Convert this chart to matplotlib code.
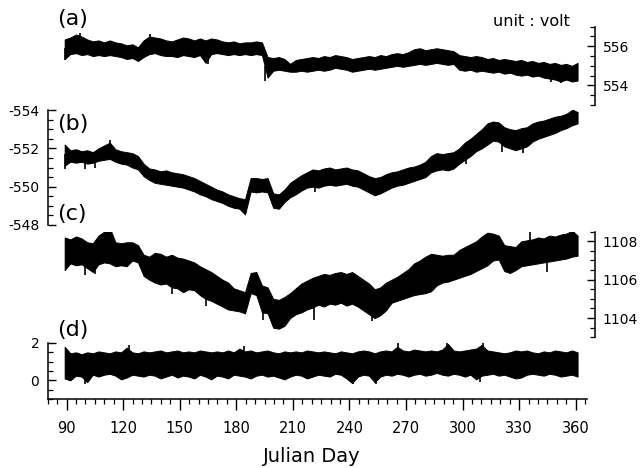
import matplotlib
matplotlib.use("Agg")
import matplotlib.pyplot as plt
import numpy as np
from matplotlib.ticker import MultipleLocator

plt.rcParams['font.family'] = ['DejaVu Sans']
plt.rcParams['axes.unicode_minus'] = False

# sampling days (every ~3 days, day 89 to 361)
day = np.linspace(89, 361, 92)

# envelopes of the noisy records (volt)
a_hi = [556.35, 556.45, 556.6, 556.5, 556.35, 556.25, 556.3, 556.2, 556.3, 556.2,
        556.15, 556.05, 556.1, 555.95, 556.3, 556.5, 556.45, 556.4, 556.3, 556.25,
        556.35, 556.45, 556.4, 556.3, 556.4, 556.3, 556.4, 556.35, 556.25, 556.2,
        556.25, 556.15, 556.2, 556.2, 556.25, 556.2, 555.45, 555.4, 555.45, 555.35,
        555.1, 555.3, 555.35, 555.4, 555.45, 555.4, 555.5, 555.45, 555.55, 555.5,
        555.45, 555.35, 555.4, 555.45, 555.5, 555.45, 555.55, 555.5, 555.6, 555.65,
        555.6, 555.7, 555.85, 555.9, 555.8, 555.85, 555.9, 555.85, 555.8, 555.75,
        555.55, 555.5, 555.45, 555.5, 555.45, 555.35, 555.4, 555.3, 555.35, 555.3,
        555.25, 555.3, 555.2, 555.25, 555.15, 555.2, 555.1, 555.15, 555.05, 555.1,
        555.0, 555.15]
a_lo = [555.35, 555.6, 555.65, 555.55, 555.6, 555.5, 555.55, 555.5, 555.55, 555.5,
        555.45, 555.35, 555.4, 555.25, 555.45, 555.6, 555.65, 555.55, 555.5, 555.5,
        555.45, 555.55, 555.5, 555.45, 555.55, 555.15, 555.6, 555.65, 555.6, 555.55,
        555.6, 555.55, 555.6, 555.55, 555.6, 555.55, 554.4, 554.75, 554.8, 554.75,
        554.7, 554.7, 554.75, 554.7, 554.75, 554.8, 554.75, 554.8, 554.9, 554.85,
        554.8, 554.7, 554.75, 554.8, 554.85, 554.8, 554.85, 554.9, 554.95, 555.0,
        554.95, 555.0, 555.05, 555.1, 555.05, 555.1, 555.15, 555.1, 555.05, 555.1,
        554.8, 554.75, 554.8, 554.7, 554.75, 554.7, 554.65, 554.7, 554.6, 554.65,
        554.55, 554.5, 554.55, 554.45, 554.5, 554.4, 554.35, 554.3, 554.2, 554.3,
        554.2, 554.25]

b_hi = [-552.2, -551.9, -551.95, -551.85, -551.9, -551.8, -552.0, -552.15, -552.3, -551.95,
        -551.85, -551.8, -551.75, -551.6, -551.2, -550.95, -550.9, -550.8, -550.85, -550.75,
        -550.7, -550.65, -550.55, -550.45, -550.3, -550.15, -550.0, -549.85, -549.75, -549.6,
        -549.5, -549.4, -549.35, -550.45, -550.45, -550.4, -550.45, -549.65, -549.6, -549.85,
        -550.2, -550.4, -550.6, -550.75, -550.9, -550.85, -550.95, -551.0, -550.9, -550.95,
        -551.0, -550.9, -550.85, -550.7, -550.55, -550.45, -550.5, -550.65, -550.75, -550.8,
        -550.9, -551.0, -551.05, -551.15, -551.3, -551.6, -551.75, -551.7, -551.75, -551.8,
        -552.0, -552.3, -552.5, -552.75, -553.0, -553.3, -553.4, -553.35, -553.1, -553.0,
        -552.95, -553.05, -553.1, -553.3, -553.4, -553.45, -553.55, -553.65, -553.7, -553.8,
        -554.0, -553.9]
b_lo = [-551.1, -551.3, -551.25, -551.3, -551.2, -551.25, -551.35, -551.4, -551.45, -551.3,
        -551.2, -551.15, -551.0, -550.9, -550.55, -550.35, -550.2, -550.15, -550.1, -550.05,
        -550.0, -549.95, -549.85, -549.75, -549.6, -549.5, -549.35, -549.25, -549.15, -549.0,
        -548.9, -548.85, -548.55, -549.75, -549.7, -549.75, -549.7, -548.9, -548.85, -549.2,
        -549.45, -549.6, -549.8, -549.95, -550.0, -549.95, -550.05, -550.1, -550.05, -550.1,
        -550.15, -550.05, -550.0, -549.85, -549.7, -549.55, -549.65, -549.8, -549.95, -550.05,
        -550.1, -550.2, -550.3, -550.4, -550.5, -550.75, -550.85, -550.9, -550.85, -550.95,
        -551.2, -551.4, -551.6, -551.85, -552.0, -552.2, -552.4, -552.35, -552.1, -552.0,
        -551.9, -552.0, -552.1, -552.35, -552.5, -552.6, -552.7, -552.8, -552.95, -553.05,
        -553.2, -553.3]

c_hi = [1108.2, 1108.1, 1108.25, 1108.15, 1107.95, 1107.9, 1108.3, 1108.5, 1108.7, 1107.95,
        1107.9, 1107.95, 1107.95, 1107.8, 1107.3, 1107.2, 1107.4, 1107.35, 1107.2, 1107.3,
        1107.15, 1107.1, 1107.0, 1106.9, 1106.7, 1106.55, 1106.4, 1106.2, 1106.0, 1105.85,
        1105.55, 1105.45, 1105.35, 1106.35, 1106.4, 1105.7, 1105.6, 1105.0, 1104.95, 1105.1,
        1105.3, 1105.55, 1105.8, 1105.95, 1106.1, 1106.2, 1106.3, 1106.25, 1106.35, 1106.4,
        1106.3, 1106.4, 1106.2, 1106.0, 1105.8, 1105.5, 1105.6, 1105.85, 1106.0, 1106.15,
        1106.35, 1106.55, 1106.85, 1107.0, 1107.2, 1107.35, 1107.3, 1107.25, 1107.3, 1107.3,
        1107.55, 1107.7, 1107.85, 1108.0, 1108.25, 1108.45, 1108.4, 1108.3, 1107.8, 1107.75,
        1107.7, 1108.0, 1108.05, 1108.1, 1108.2, 1108.15, 1108.3, 1108.25, 1108.35, 1108.4,
        1108.55, 1108.3]
c_lo = [1106.5, 1106.85, 1106.75, 1106.8, 1106.6, 1106.4, 1106.8, 1106.9, 1106.85, 1106.7,
        1106.75, 1106.7, 1107.0, 1106.9, 1106.2, 1106.0, 1105.85, 1105.75, 1105.8, 1105.6,
        1105.55, 1105.35, 1105.5, 1105.45, 1105.2, 1105.0, 1104.9, 1104.75, 1104.6, 1104.45,
        1104.4, 1104.35, 1104.25, 1105.3, 1105.2, 1104.3, 1104.25, 1103.5, 1103.45, 1103.6,
        1104.0, 1104.2, 1104.3, 1104.45, 1104.55, 1104.7, 1104.6, 1104.75, 1104.7, 1104.8,
        1104.65, 1104.75, 1104.6, 1104.4, 1104.2, 1104.0, 1104.15, 1104.4, 1104.8, 1104.9,
        1105.0, 1105.1, 1105.2, 1105.25, 1105.3, 1105.4, 1105.7, 1105.85, 1105.9, 1106.0,
        1106.1, 1106.2, 1106.3, 1106.45, 1106.6, 1106.75, 1107.0, 1107.05, 1106.45, 1106.35,
        1106.5, 1106.7, 1106.75, 1106.8, 1106.85, 1106.9, 1106.95, 1107.0, 1107.05, 1107.1,
        1107.2, 1107.25]

d_hi = [1.8, 1.45, 1.5, 1.4, 1.5, 1.45, 1.55, 1.5, 1.45, 1.55,
        1.5, 1.75, 1.5, 1.45, 1.55, 1.5, 1.55, 1.6, 1.5, 1.55,
        1.6, 1.5, 1.55, 1.5, 1.6, 1.55, 1.5, 1.55, 1.5, 1.6,
        1.5, 1.7, 1.55, 1.6, 1.5, 1.55, 1.6, 1.5, 1.45, 1.55,
        1.5, 1.55, 1.5, 1.6, 1.55, 1.5, 1.55, 1.5, 1.45, 1.55,
        1.5, 1.45, 1.55, 1.6, 1.55, 1.45, 1.55, 1.6, 1.55, 1.8,
        1.6, 1.55, 1.65, 1.6, 1.55, 1.6, 1.55, 1.65, 1.95, 1.6,
        1.55, 1.6, 1.65, 1.7, 1.9, 1.6, 1.55, 1.5, 1.45, 1.5,
        1.6, 1.55, 1.6, 1.5, 1.45, 1.55, 1.5, 1.6, 1.55, 1.5,
        1.6, 1.5]
d_lo = [0.1, 0.0, 0.25, 0.2, -0.1, 0.3, 0.2, 0.3, 0.35, 0.25,
        0.05, 0.15, 0.3, 0.25, 0.2, 0.3, 0.25, 0.1, 0.2, 0.3,
        0.15, 0.25, 0.2, 0.1, 0.3, 0.2, 0.05, 0.25, 0.2, 0.1,
        0.3, 0.25, 0.2, 0.1, 0.25, 0.3, 0.2, 0.25, 0.15, 0.05,
        0.2, 0.3, 0.25, 0.1, 0.2, 0.3, 0.25, 0.2, 0.35, 0.3,
        0.1, -0.15, 0.2, 0.3, 0.25, -0.1, 0.2, 0.3, 0.25, 0.35,
        0.3, 0.2, 0.3, 0.35, 0.25, 0.3, 0.4, 0.3, 0.25, 0.35,
        0.3, 0.2, 0.3, 0.05, 0.25, 0.3, 0.35, 0.25, 0.3, 0.2,
        0.1, 0.15, 0.3, 0.35, 0.3, 0.25, 0.35, 0.3, 0.2, 0.25,
        0.3, 0.2]

# isolated spikes sticking out of the bands: day, start, end
a_spk_day = [89, 97, 134, 165, 195, 347, 352, 358]
a_spk_y0 = [555.9, 556.0, 556.0, 555.9, 555.0, 554.7, 554.7, 554.7]
a_spk_y1 = [555.3, 556.7, 556.65, 555.1, 554.25, 554.15, 554.1, 554.15]

b_spk_day = [89, 100, 105, 113, 222, 302, 321, 332, 359]
b_spk_y0 = [-551.7, -551.6, -551.6, -551.9, -550.5, -551.8, -552.8, -552.5, -553.6]
b_spk_y1 = [-550.9, -550.9, -551.0, -552.45, -549.7, -551.2, -551.8, -551.75, -554.15]

c_spk_day = [100, 105, 113, 146, 164, 194, 221, 252, 336, 345, 359]
c_spk_y0 = [1107.3, 1107.3, 1108.0, 1106.3, 1105.8, 1105.0, 1105.0, 1104.8, 1107.5, 1107.5, 1107.8]
c_spk_y1 = [1106.25, 1106.3, 1108.9, 1105.25, 1104.65, 1103.9, 1103.9, 1103.85, 1108.5, 1106.4, 1108.7]

d_spk_day = [100, 123, 184, 242, 254, 266, 292, 309, 311]
d_spk_y0 = [0.8, 0.9, 0.9, 0.8, 0.8, 0.9, 0.9, 0.8, 0.9]
d_spk_y1 = [-0.2, 1.9, 1.85, -0.2, -0.2, 2.0, 2.1, -0.1, 2.05]

xticks = [90, 120, 150, 180, 210, 240, 270, 300, 330, 360]

W, H = 641, 468
fig = plt.figure(figsize=(W / 100, H / 100), dpi=100)

def px_axes(top, bottom):
    # axes box in pixel rows, common x from 47.7 to 587 px
    return fig.add_axes([47.7 / W, 1 - bottom / H, (587 - 47.7) / W, (bottom - top) / H])

ax_a = px_axes(26.7, 105)
ax_b = px_axes(110, 225)
ax_c = px_axes(231.7, 337.3)
ax_d = px_axes(343, 399)

panels = [
    (ax_a, a_lo, a_hi, a_spk_day, a_spk_y0, a_spk_y1, (553, 557), 'right'),
    (ax_b, b_lo, b_hi, b_spk_day, b_spk_y0, b_spk_y1, (-548, -554), 'left'),
    (ax_c, c_lo, c_hi, c_spk_day, c_spk_y0, c_spk_y1, (1103, 1108.5), 'right'),
    (ax_d, d_lo, d_hi, d_spk_day, d_spk_y0, d_spk_y1, (-1, 2), 'left'),
]

for ax, lo, hi, sd, s0, s1, ylim, side in panels:
    ax.fill_between(day, lo, hi, color='black', linewidth=0.7, edgecolor='black')
    ax.vlines(sd, s0, s1, color='black', linewidth=1.2)
    ax.set_xlim(80, 366)
    ax.set_ylim(*ylim)
    ax.patch.set_alpha(0)
    for s in ['top', 'bottom', 'left', 'right']:
        ax.spines[s].set_visible(False)
    ax.spines[side].set_visible(True)
    ax.spines[side].set_linewidth(1.1)
    if side == 'right':
        ax.spines['right'].set_position(('data', 370))
        ax.yaxis.tick_right()
    else:
        ax.yaxis.tick_left()
    ax.yaxis.set_major_locator(MultipleLocator(2))
    ax.yaxis.set_minor_locator(MultipleLocator(0.5))
    ax.tick_params(axis='y', which='major', direction='in', length=6, width=1.0,
                   pad=6, labelsize=10)
    ax.tick_params(axis='y', which='minor', direction='in', length=3.5, width=0.9)
    if ax is not ax_d:
        ax.tick_params(axis='x', which='both', bottom=False, labelbottom=False)

ax_d.spines['bottom'].set_visible(True)
ax_d.spines['bottom'].set_linewidth(1.1)
ax_d.set_xticks(xticks)
ax_d.xaxis.set_minor_locator(MultipleLocator(5))
ax_d.tick_params(axis='x', which='major', direction='out', length=8, width=1.0,
                 pad=8, labelsize=10.5)
ax_d.tick_params(axis='x', which='minor', direction='out', length=3.5, width=0.9)

# panel tags and captions
for tag, ypx in [('(a)', 19), ('(b)', 124), ('(c)', 214), ('(d)', 330)]:
    fig.text(57 / W, 1 - ypx / H, tag, fontsize=16, va='center', ha='left')
fig.text(570 / W, 1 - 22 / H, 'unit : volt', fontsize=11.5, va='center', ha='right')
fig.text(312 / W, 1 - 456 / H, 'Julian Day', fontsize=14, va='center', ha='center')

fig.savefig('out.png', dpi=100)
